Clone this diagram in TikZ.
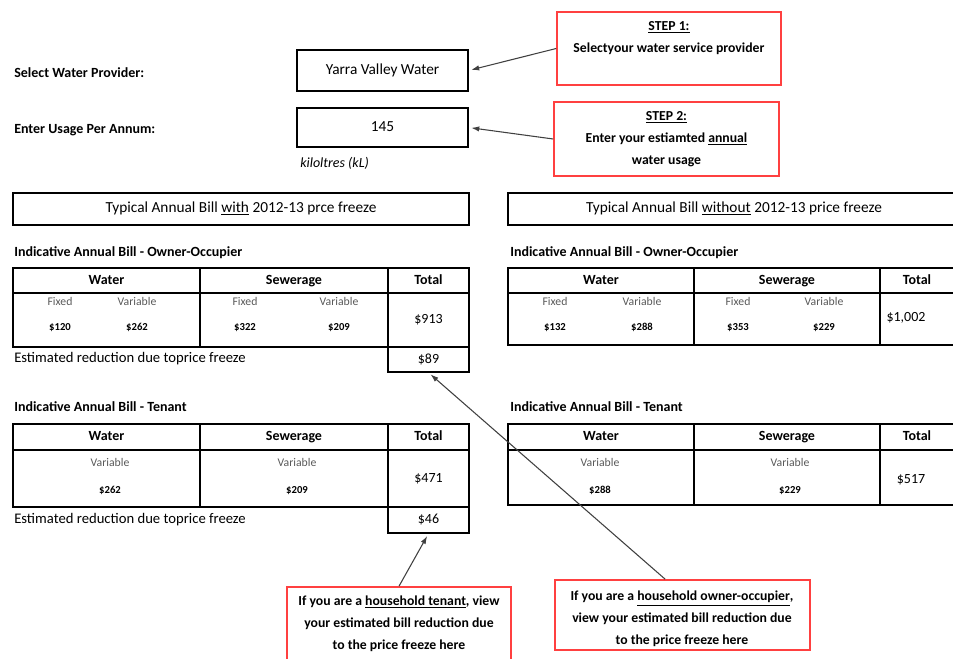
\documentclass[tikz,border=0pt]{standalone}
\usepackage{fontspec}
\setmainfont{Carlito}
\usetikzlibrary{fit, arrows.meta}

\newcommand{\fsz}[1]{\fontsize{#1}{#1}\selectfont}

\tikzset{
	cell/.style={draw, line width=0.9pt, inner sep=0pt},
	txt/.style={inner sep=0pt, text height=8pt, text depth=2.5pt, font=\fsz{11.5}},
	hd/.style={inner sep=0pt, text height=7.5pt, text depth=2pt, font=\bfseries\fsz{10.5}},
	lbl/.style={anchor=west, inner sep=0pt, font=\bfseries\fsz{10.5}},
	note/.style={anchor=west, inner sep=0pt, font=\fsz{11}},
	sub/.style={inner sep=0pt, text height=6pt, text depth=1pt, text=black!65, font=\fsz{8.8}},
	val/.style={inner sep=0pt, text height=6pt, text depth=1pt, font=\bfseries\fsz{8}},
	tot/.style={inner sep=0pt, text height=7.5pt, text depth=2pt, font=\fsz{10.5}},
	callout/.style={draw=red!75, line width=1.2pt, fill=white, inner sep=0pt},
	calltxt/.style={inner sep=0pt, align=center, font=\bfseries\fontsize{10.3}{16.5}\selectfont},
	pointer/.style={-{Latex[length=6pt,width=4pt]}, line width=0.8pt, black!75, shorten >=2pt},
}

\begin{document}
\begin{tikzpicture}[x=0.75pt, y=-0.75pt]

	\useasboundingbox (0,0) rectangle (953,659);
	\clip (0,0) rectangle (953,659);

	% inputs
	\node[lbl] (provlbl) at (14,73) {Select Water Provider:};
	\node[cell, fit={(297,50)(468,91)}] (provider) {};
	\node[txt] (providertxt) at (provider) {Yarra Valley Water};
	\node[lbl] (uselbl) at (14,130) {Enter Usage Per Annum:};
	\node[cell, fit={(297,108)(468,147)}] (usage) {};
	\node[txt] (usagetxt) at (usage) {145};
	\node[note, font=\itshape\fsz{10.5}] (unit) at (300,163) {kiloltres (kL)};

	\node[callout, fit={(557,12)(781,85)}] (step1) {};
	\node[calltxt] (step1txt) at (669,38) {\underline{STEP 1:}\\Selectyour water service provider};
	\node[callout, fit={(554,102)(779,176)}] (step2) {};
	\node[calltxt] (step2txt) at (step2) {\underline{STEP 2:}\\Enter your estiamted \underline{annual}\\water usage};

	% headings
	\node[cell, fit={(13,193)(469,225)}] (withhd) {};
	\node[txt] (withtxt) at (withhd) {Typical Annual Bill \underline{with} 2012-13 prce freeze};
	\node[cell, fit={(508,193)(960,225)}] (withouthd) {};
	\node[txt] (withouttxt) at (withouthd) {Typical Annual Bill \underline{without} 2012-13 price freeze};

	% owner-occupier, with freeze
	\node[lbl] (lowlbl) at (14,253) {Indicative Annual Bill - Owner-Occupier};
	\node[cell, fit={(13,268)(200,293)}] (lowW) {};
	\node[cell, fit={(200,268)(388,293)}] (lowS) {};
	\node[cell, fit={(388,268)(469,293)}] (lowT) {};
	\node[hd] at (lowW) {Water};
	\node[hd] at (lowS) {Sewerage};
	\node[hd] at (lowT) {Total};
	\node[cell, fit={(13,293)(200,347)}] (lowWb) {};
	\node[cell, fit={(200,293)(388,347)}] (lowSb) {};
	\node[cell, fit={(388,293)(469,347)}] (lowTb) {};
	\node[tot] (lowtot) at (lowTb) {\$913};
	\node[cell, fit={(388,347)(469,372)}] (lowcut) {};
	\node[tot] (lowcuttxt) at (lowcut) {\$89};
	\node[note] (lowcutlbl) at (14,359) {Estimated reduction due toprice freeze};
	\foreach \x/\k/\v [count=\i] in {60/Fixed/120, 137/Variable/262, 245/Fixed/322, 339/Variable/209}{
		\node[sub] (lowk\i) at (\x,302) {\k};
		\node[val] (lowv\i) at (\x,327) {\$\v};
	}

	% owner-occupier, without freeze
	\node[lbl] (rowlbl) at (510,253) {Indicative Annual Bill - Owner-Occupier};
	\node[cell, fit={(508,268)(694,293)}] (rowW) {};
	\node[cell, fit={(694,268)(880,293)}] (rowS) {};
	\node[cell, fit={(880,268)(960,293)}] (rowT) {};
	\node[hd] at (rowW) {Water};
	\node[hd] at (rowS) {Sewerage};
	\node[hd] at (917,281) {Total};
	\node[cell, fit={(508,293)(694,345)}] (rowWb) {};
	\node[cell, fit={(694,293)(880,345)}] (rowSb) {};
	\node[cell, fit={(880,293)(960,345)}] (rowTb) {};
	\node[tot] (rowtot) at (906,318) {\$1,002};
	\foreach \x/\k/\v [count=\i] in {555/Fixed/132, 642/Variable/288, 738/Fixed/353, 824/Variable/229}{
		\node[sub] (rowk\i) at (\x,302) {\k};
		\node[val] (rowv\i) at (\x,327) {\$\v};
	}

	% tenant, with freeze
	\node[lbl] (ltlbl) at (14,407) {Indicative Annual Bill - Tenant};
	\node[cell, fit={(13,424)(200,450)}] (ltW) {};
	\node[cell, fit={(200,424)(388,450)}] (ltS) {};
	\node[cell, fit={(388,424)(469,450)}] (ltT) {};
	\node[hd] at (ltW) {Water};
	\node[hd] at (ltS) {Sewerage};
	\node[hd] at (ltT) {Total};
	\node[cell, fit={(13,450)(200,507)}] (ltWb) {};
	\node[cell, fit={(200,450)(388,507)}] (ltSb) {};
	\node[cell, fit={(388,450)(469,507)}] (ltTb) {};
	\node[tot] (lttot) at (ltTb) {\$471};
	\node[cell, fit={(388,507)(469,533)}] (ltcut) {};
	\node[tot] (ltcuttxt) at (ltcut) {\$46};
	\node[note] (ltcutlbl) at (14,520) {Estimated reduction due toprice freeze};
	\foreach \x/\v [count=\i] in {110/262, 297/209}{
		\node[sub] (ltk\i) at (\x,463) {Variable};
		\node[val] (ltv\i) at (\x,490) {\$\v};
	}

	% tenant, without freeze
	\node[lbl] (rtlbl) at (510,407) {Indicative Annual Bill - Tenant};
	\node[cell, fit={(508,424)(694,450)}] (rtW) {};
	\node[cell, fit={(694,424)(880,450)}] (rtS) {};
	\node[cell, fit={(880,424)(960,450)}] (rtT) {};
	\node[hd] at (rtW) {Water};
	\node[hd] at (rtS) {Sewerage};
	\node[hd] at (917,437) {Total};
	\node[cell, fit={(508,450)(694,505)}] (rtWb) {};
	\node[cell, fit={(694,450)(880,505)}] (rtSb) {};
	\node[cell, fit={(880,450)(960,505)}] (rtTb) {};
	\node[tot] (rttot) at (911,480) {\$517};
	\foreach \x/\v [count=\i] in {600/288, 790/229}{
		\node[sub] (rtk\i) at (\x,463) {Variable};
		\node[val] (rtv\i) at (\x,490) {\$\v};
	}

	% hints
	\node[callout, fit={(287,587)(511,665)}] (tenantnote) {};
	\node[calltxt] (tenanttxt) at (399,624) {If you are a \underline{household tenant}, view\\your estimated bill reduction due\\to the price freeze here};
	\node[callout, fit={(555,580)(810,650)}] (ownernote) {};
	\node[calltxt] (ownertxt) at (682,619) {If you are a \underline{household owner-occupier},\\view your estimated bill reduction due\\to the price freeze here};

	\draw[pointer] (step1.west) -- (provider.east);
	\draw[pointer] (step2.west) -- (usage.east);
	\draw[pointer] (tenantnote.north) -- (ltcut.south);
	\draw[pointer] ([xshift=-13pt]ownernote.north) -- (lowcut.south);

\end{tikzpicture}
\end{document}
